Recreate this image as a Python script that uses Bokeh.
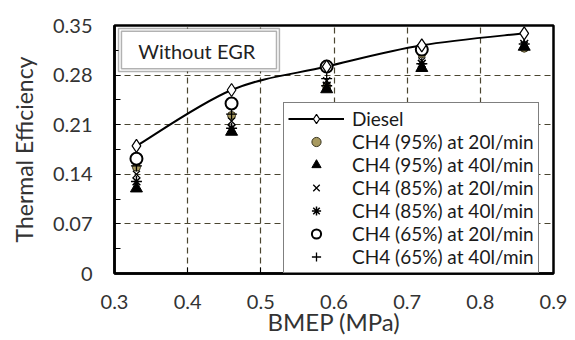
from bokeh.plotting import figure
from bokeh.models import Range1d, Legend, LegendItem, FixedTicker, BoxAnnotation, Label
from bokeh.embed import file_html
from bokeh.resources import INLINE

NA = float("nan")
bmep = [0.33, 0.46, 0.59, 0.72, 0.86]
diesel = [0.180, 0.259, 0.292, 0.322, 0.339]
ch4_95_20 = [0.150, 0.223, 0.264, 0.310, 0.318]
ch4_95_40 = [0.120, 0.200, 0.260, 0.290, 0.320]
ch4_85_20 = [0.140, 0.215, 0.272, 0.300, 0.322]
ch4_85_40 = [0.130, 0.205, 0.265, 0.296, 0.324]
ch4_65_20 = [0.162, 0.240, 0.292, 0.316, NA]
ch4_65_40 = [0.152, 0.225, 0.275, 0.315, NA]

x_ticks = [0.3, 0.4, 0.5, 0.6, 0.7, 0.8, 0.9]
y_ticks = [0, 0.07, 0.14, 0.21, 0.28, 0.35]
y_minor = [0.035, 0.105, 0.175, 0.245, 0.315]

FONT = "Lato"
TXT = "#333333"

p = figure(width=575, height=340, output_backend="svg", toolbar_location=None,
           x_range=Range1d(0.3, 0.9), y_range=Range1d(0, 0.35),
           min_border_left=114, min_border_right=22, min_border_top=25, min_border_bottom=67)

p.outline_line_color = "black"
p.outline_line_width = 2.5
p.background_fill_color = "white"

for ax in (p.xaxis[0], p.yaxis[0]):
    ax.axis_line_color = "black"
    ax.axis_line_width = 2.5
    ax.major_tick_in = 6
    ax.major_tick_out = 0
    ax.minor_tick_in = 6
    ax.minor_tick_out = 0
    ax.major_tick_line_color = "black"
    ax.minor_tick_line_color = "black"
    ax.major_label_text_font = FONT
    ax.major_label_text_font_size = "20px"
    ax.major_label_text_color = TXT
    ax.axis_label_text_font = FONT
    ax.axis_label_text_color = TXT
    ax.axis_label_text_font_style = "normal"

p.xaxis.ticker = FixedTicker(ticks=x_ticks)
p.yaxis.ticker = FixedTicker(ticks=y_ticks, minor_ticks=y_minor)
p.xaxis.major_label_overrides = {t: f"{t:g}" for t in x_ticks}
p.yaxis.major_label_overrides = {t: f"{t:g}" for t in y_ticks}
p.xaxis.major_label_standoff = 21
p.yaxis.major_label_standoff = 22
p.xaxis.axis_label = "BMEP (MPa)"
p.yaxis.axis_label = "Thermal Efficiency"
p.xaxis.axis_label_text_font_size = "24px"
p.yaxis.axis_label_text_font_size = "23px"
p.xaxis.axis_label_standoff = -5
p.yaxis.axis_label_standoff = 12

for g in (p.xgrid[0], p.ygrid[0]):
    g.grid_line_color = "#4a4530"
    g.grid_line_dash = "6 4"
    g.grid_line_width = 1.2

# Smoothed diesel curve (cubic bezier through data points)
n = len(bmep)
x0s, y0s, x1s, y1s, cx0, cy0, cx1, cy1 = [], [], [], [], [], [], [], []
for i in range(n - 1):
    xm = bmep[i - 1] if i > 0 else bmep[i]
    ym = diesel[i - 1] if i > 0 else diesel[i]
    xp = bmep[i + 2] if i + 2 < n else bmep[i + 1]
    yp = diesel[i + 2] if i + 2 < n else diesel[i + 1]
    x0s.append(bmep[i]); y0s.append(diesel[i])
    x1s.append(bmep[i + 1]); y1s.append(diesel[i + 1])
    cx0.append(bmep[i] + (bmep[i + 1] - xm) / 6)
    cy0.append(diesel[i] + (diesel[i + 1] - ym) / 6)
    cx1.append(bmep[i + 1] - (xp - bmep[i]) / 6)
    cy1.append(diesel[i + 1] - (yp - diesel[i]) / 6)

bez = p.bezier(x0=x0s, y0=y0s, x1=x1s, y1=y1s, cx0=cx0, cy0=cy0, cx1=cx1, cy1=cy1,
               line_color="black", line_width=2)

r95_20 = p.scatter(bmep, ch4_95_20, marker="circle", size=8, fill_color="#a89a60", line_color="#3a3520", line_width=1)
r95_40 = p.scatter(bmep, ch4_95_40, marker="triangle", size=12, fill_color="black", line_color="black")
r85_40 = p.scatter(bmep, ch4_85_40, marker="asterisk", size=11, line_color="black", line_width=1.5)
r85_20 = p.scatter(bmep, ch4_85_20, marker="x", size=10, line_color="black", line_width=1.3)
r65_40 = p.scatter(bmep, ch4_65_40, marker="cross", size=11, line_color="black", line_width=1.3)
r65_20 = p.scatter(bmep, ch4_65_20, marker="circle", size=12, fill_color="white", line_color="black", line_width=2)
dia = p.scatter(bmep, diesel, marker="diamond", size=13, fill_color="white", line_color="black", line_width=1.2)

# "Without EGR" box (double border)
p.add_layout(BoxAnnotation(left=0.3055, right=0.5254, bottom=0.2850, top=0.3458,
                           fill_color="white", fill_alpha=1, line_color="black", line_width=1.5))
p.add_layout(BoxAnnotation(left=0.3095, right=0.5214, bottom=0.2890, top=0.3418,
                           fill_alpha=0, line_color="black", line_width=1.5))
p.add_layout(Label(x=0.416, y=0.314, text="Without  EGR", text_align="center", text_baseline="middle",
                   text_font=FONT, text_font_size="20px", text_color="#222222"))

items = [
    LegendItem(label="Diesel", renderers=[bez, dia]),
    LegendItem(label="CH4 (95%) at 20l/min", renderers=[r95_20]),
    LegendItem(label="CH4 (95%) at 40l/min", renderers=[r95_40]),
    LegendItem(label="CH4 (85%) at 20l/min", renderers=[r85_20]),
    LegendItem(label="CH4 (85%) at 40l/min", renderers=[r85_40]),
    LegendItem(label="CH4 (65%) at 20l/min", renderers=[r65_20]),
    LegendItem(label="CH4 (65%) at 40l/min", renderers=[r65_40]),
]
leg = Legend(items=items, location=(169, 0), glyph_width=56, glyph_height=23, label_height=23,
             spacing=0, padding=4, margin=0, label_standoff=8,
             label_text_font=FONT, label_text_font_size="19px", label_text_color="#1a1a1a",
             border_line_color="black", border_line_width=1.5, background_fill_alpha=1)
p.add_layout(leg)

open("out.html", "w").write(file_html(p, INLINE))
